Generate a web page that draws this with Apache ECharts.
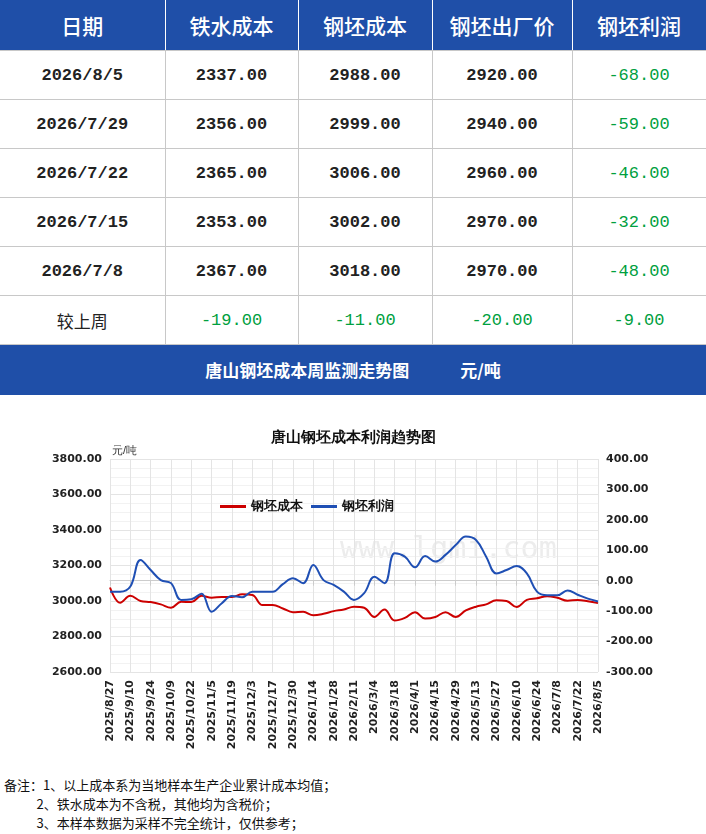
<!DOCTYPE html>
<html><head><meta charset="utf-8">
<script src="https://cdn.jsdelivr.net/npm/echarts@6/dist/echarts.min.js"></script>
<style>
body{margin:0;width:706px;height:834px;background:#fff;font-family:"Noto Sans CJK SC";overflow:hidden}
table{border-collapse:collapse;width:706px;table-layout:fixed}
td,th{text-align:center;height:48px;border-bottom:1px solid #c8c8c8;border-right:1px solid #c8c8c8;font-family:"Liberation Mono","Noto Sans CJK SC";font-weight:bold;font-size:17px;color:#222;padding:0}
th{background:#1f4fa8;color:#fff;font-family:"Noto Sans CJK SC";font-size:21px;font-weight:500;height:50px;border-right:1px solid #fff}
.g{color:#00a040;font-weight:normal}
.bar{background:#1f4fa8;color:#fff;height:50px;line-height:50px;text-align:center;font-weight:bold;font-size:17px}
#chart{width:706px;height:380px}
.note{font-size:13px;line-height:19px;color:#111;padding-left:4px}
</style></head><body>
<table id="tbl"><colgroup><col style="width:165px"><col style="width:133px"><col style="width:134px"><col style="width:140px"><col style="width:134px"></colgroup></table>
<div class="bar">唐山钢坯成本周监测走势图　　　元/吨</div>
<div id="chart"></div>
<div class="note">备注：1、以上成本系为当地样本生产企业累计成本均值；<br>&emsp;&emsp;&ensp;2、铁水成本为不含税，其他均为含税价；<br>&emsp;&emsp;&ensp;3、本样本数据为采样不完全统计，仅供参考；</div>
<script>
var headers = ['日期', '铁水成本', '钢坯成本', '钢坯出厂价', '钢坯利润'];
var rowDates = ['2026/8/5', '2026/7/29', '2026/7/22', '2026/7/15', '2026/7/8'];
var ironCost = ['2337.00', '2356.00', '2365.00', '2353.00', '2367.00'];
var billetCost = ['2988.00', '2999.00', '3006.00', '3002.00', '3018.00'];
var billetPrice = ['2920.00', '2940.00', '2960.00', '2970.00', '2970.00'];
var billetProfit = ['-68.00', '-59.00', '-46.00', '-32.00', '-48.00'];
var weekChange = ['较上周', '-19.00', '-11.00', '-20.00', '-9.00'];

var dates = ['2025/8/27','2025/9/3','2025/9/10','2025/9/17','2025/9/24','2025/10/1','2025/10/9','2025/10/15','2025/10/22','2025/10/29',
 '2025/11/5','2025/11/12','2025/11/19','2025/11/26','2025/12/3','2025/12/10','2025/12/17','2025/12/24','2025/12/30','2026/1/7',
 '2026/1/14','2026/1/21','2026/1/28','2026/2/4','2026/2/11','2026/2/25','2026/3/4','2026/3/11','2026/3/18','2026/3/25',
 '2026/4/1','2026/4/8','2026/4/15','2026/4/22','2026/4/29','2026/5/6','2026/5/13','2026/5/20','2026/5/27','2026/6/3',
 '2026/6/10','2026/6/17','2026/6/24','2026/7/1','2026/7/8','2026/7/15','2026/7/22','2026/7/29','2026/8/5'];
var costSeries = [3076,2990,3029,3000,2994,2981,2962,2996,2994,3029,3019,3023,3023,3038,3034,2977,2977,2958,2937,2939,
 2920,2928,2943,2952,2968,2962,2910,2952,2890,2905,2937,2901,2910,2937,2910,2947,2968,2981,3004,3000,
 2966,3006,3015,3027,3018,3002,3006,2999,2988];
var profitSeries = [-36,-36,-19,68,35,2,-8,-63,-61,-43,-102,-74,-50,-54,-36,-36,-36,-11,8,-8,
 52,2,-14,-36,-63,-41,13,-8,90,79,44,81,63,85,117,145,134,79,24,35,
 48,24,-36,-48,-48,-32,-46,-59,-68];

var html = '<tr>' + headers.map(function(h){return '<th>' + h + '</th>';}).join('') + '</tr>';
for (var i = 0; i < rowDates.length; i++) {
    html += '<tr><td>' + rowDates[i] + '</td><td>' + ironCost[i] + '</td><td>' + billetCost[i] + '</td><td>'
        + billetPrice[i] + '</td><td class="g">' + billetProfit[i] + '</td></tr>';
}
html += '<tr>' + weekChange.map(function(v, k){return '<td' + (k ? ' class="g"' : ' style="font-family:Noto Sans CJK SC;font-weight:normal"') + '>' + v + '</td>';}).join('') + '</tr>';
document.getElementById('tbl').insertAdjacentHTML('beforeend', html);

var myChart = echarts.init(document.getElementById('chart'));
var gridLine = {show: true, lineStyle: {color: '#e4e4e4'}};
var minorLine = {show: true, lineStyle: {color: '#f2f2f2'}};
var axisFont = {fontSize: 11, fontWeight: 'bold', color: '#222', fontFamily: 'DejaVu Sans'};
var option = {
    animation: false,
    title: {text: '唐山钢坯成本利润趋势图', left: 'center', top: 30, textStyle: {fontSize: 15, fontWeight: 'bold', color: '#111'}},
    graphic: [{type: 'text', left: 112, top: 50, style: {text: '元/吨', fontSize: 11, fill: '#333'}},
        {type: 'text', left: 340, top: 140, style: {text: 'www.lgmi.com', fontSize: 30, fill: 'rgba(200,200,200,0.35)', fontFamily: 'DejaVu Sans Mono'}}],
    legend: {left: 215, top: 100, itemWidth: 26, itemHeight: 3, icon: 'rect', itemGap: 8,
        textStyle: {fontSize: 13, fontWeight: 'bold', color: '#111'}},
    grid: {left: 110, right: 108, top: 64, bottom: 103},
    xAxis: {type: 'category', data: dates, boundaryGap: false,
        axisLine: {lineStyle: {color: '#ccc'}}, axisTick: {show: true, alignWithLabel: true, lineStyle: {color: '#ccc'}},
        axisLabel: Object.assign({rotate: 90, interval: 1}, axisFont),
        splitLine: gridLine},
    yAxis: [
        {type: 'value', min: 2600, max: 3800, interval: 200, axisLabel: Object.assign({formatter: function(v){return v.toFixed(2);}}, axisFont),
            axisLine: {show: false}, splitLine: gridLine, minorTick: {show: false, splitNumber: 4}, minorSplitLine: minorLine},
        {type: 'value', min: -300, max: 400, interval: 100, axisLabel: Object.assign({formatter: function(v){return v.toFixed(2);}}, axisFont),
            axisLine: {show: false}, splitLine: {show: false}}
    ],
    series: [
        {name: '钢坯成本', type: 'line', data: costSeries, smooth: 0.4, symbol: 'none', lineStyle: {color: '#cc0000', width: 2}, itemStyle: {color: '#cc0000'}},
        {name: '钢坯利润', type: 'line', yAxisIndex: 1, data: profitSeries, smooth: 0.4, symbol: 'none', lineStyle: {color: '#1f4fb4', width: 2}, itemStyle: {color: '#1f4fb4'}}
    ]
};
myChart.setOption(option);
</script>
</body></html>
